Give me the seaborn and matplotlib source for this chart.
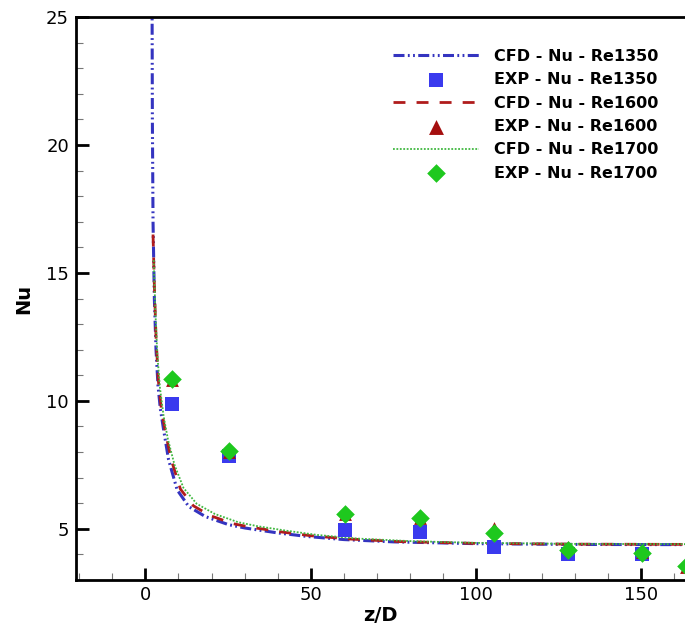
import matplotlib
matplotlib.use("Agg")
import matplotlib.pyplot as plt
import seaborn as sns
from matplotlib.ticker import MultipleLocator

sns.set_style("white")
plt.rcParams['font.family'] = ['DejaVu Sans']
plt.rcParams['text.color'] = 'black'
plt.rcParams['axes.labelcolor'] = 'black'

# CFD curves
cfd1350_x = [2.0, 2.1, 2.3, 2.7, 3.2, 3.8, 4.5, 5.5, 7.0, 9.6, 13.1, 18.1, 25.2, 30.2, 40, 49, 60, 75, 100, 130, 170]
cfd1350_y = [26, 21, 17, 14, 12, 10.6, 9.7, 8.87, 7.7, 6.52, 5.87, 5.48, 5.16, 5.03, 4.84, 4.7, 4.58, 4.49, 4.42, 4.39, 4.38]
cfd1600_x = [2.3, 2.7, 3.2, 3.9, 4.8, 6.0, 7.8, 10.6, 14.5, 19.5, 26.5, 32, 41, 50, 62, 77, 100, 130, 170]
cfd1600_y = [16.5, 14.5, 12.5, 10.8, 9.7, 8.8, 7.7, 6.55, 5.9, 5.52, 5.2, 5.06, 4.88, 4.73, 4.6, 4.5, 4.43, 4.4, 4.39]
cfd1700_x = [2.5, 3.0, 3.6, 4.4, 5.5, 6.8, 8.8, 11.5, 15.5, 21, 28, 34, 43, 52, 64, 80, 100, 130, 170]
cfd1700_y = [15.5, 13.5, 11.8, 10.5, 9.4, 8.5, 7.5, 6.6, 5.98, 5.58, 5.26, 5.1, 4.92, 4.76, 4.62, 4.52, 4.45, 4.41, 4.4]

# Experimental points
exp1350_x = [7.9, 25.4, 60.4, 83, 105.4, 127.8, 150.2]
exp1350_y = [9.88, 7.85, 4.96, 4.88, 4.3, 4.02, 4.02]
exp1600_x = [7.9, 25.4, 60.4, 83, 105.4, 127.8, 150.2, 163.5]
exp1600_y = [10.8, 8.0, 5.56, 5.41, 5.02, 4.28, 4.08, 3.52]
exp1700_x = [7.9, 25.4, 60.4, 83, 105.4, 127.8, 150.2, 163.5]
exp1700_y = [10.86, 8.05, 5.58, 5.43, 4.84, 4.18, 4.06, 3.55]

labels = ["CFD - Nu - Re1350", "EXP - Nu - Re1350", "CFD - Nu - Re1600",
          "EXP - Nu - Re1600", "CFD - Nu - Re1700", "EXP - Nu - Re1700"]

fig = plt.figure(figsize=(6.85, 6.28), dpi=100)
ax = fig.add_axes([76/685, 48/628, (685-76)/685, (580-17)/628])

sns.lineplot(x=cfd1350_x, y=cfd1350_y, ax=ax, color="#3434c0", lw=2.2,
             linestyle=(0, (3.6, 1.1, 0.6, 1.1, 0.6, 1.1)), sort=False, estimator=None, label=labels[0])
sns.lineplot(x=cfd1600_x, y=cfd1600_y, ax=ax, color="#b01c1c", lw=2.0,
             linestyle=(0, (4.3, 4.0)), sort=False, estimator=None, label=labels[2])
sns.lineplot(x=cfd1700_x, y=cfd1700_y, ax=ax, color="#40b840", lw=1.3,
             linestyle=(0, (1, 0.9)), sort=False, estimator=None, label=labels[4])

sns.scatterplot(x=exp1350_x, y=exp1350_y, ax=ax, marker="s", s=95, color="#3a3aee",
                linewidth=0, label=labels[1], zorder=3)
sns.scatterplot(x=exp1600_x, y=exp1600_y, ax=ax, marker="^", s=85, color="#a50f0f",
                linewidth=0, label=labels[3], zorder=4)
sns.scatterplot(x=exp1700_x, y=exp1700_y, ax=ax, marker="D", s=90, color="#1ec81e",
                linewidth=0, label=labels[5], zorder=5)

ax.set_xlim(-21, 163.2)
ax.set_ylim(3, 25)
ax.xaxis.set_major_locator(MultipleLocator(50))
ax.xaxis.set_minor_locator(MultipleLocator(10))
ax.yaxis.set_major_locator(MultipleLocator(5))
ax.yaxis.set_minor_locator(MultipleLocator(1))
ax.set_yticks([5, 10, 15, 20, 25])
ax.tick_params(which="major", direction="in", length=9, width=2, labelsize=13,
               colors="black", left=True, bottom=True)
ax.tick_params(axis="x", which="major", pad=4)
ax.tick_params(axis="y", which="major", pad=5)
ax.tick_params(which="minor", direction="in", length=5, width=0.8, color="#777777",
               left=True, bottom=True)
for s in ["left", "bottom", "top"]:
    ax.spines[s].set_linewidth(2)
    ax.spines[s].set_color("black")
ax.spines["right"].set_visible(False)

ax.set_xlabel("z/D", fontsize=14, fontweight="bold", labelpad=2)
ax.set_ylabel("Nu", fontsize=14, fontweight="bold", labelpad=9)

h, l = ax.get_legend_handles_labels()
d = dict(zip(l, h))
leg = ax.legend([d[k] for k in labels], labels, loc="upper left",
                bbox_to_anchor=(393/685, 1 - 49/628), bbox_transform=fig.transFigure,
                frameon=False, prop={"weight": "bold", "size": 11.5}, handlelength=5.4,
                handletextpad=0.95, labelspacing=0.52, borderaxespad=0, borderpad=0)
for t in leg.get_texts():
    t.set_color("black")
leg.legend_handles[3].set_sizes([115])

fig.savefig("out.png", dpi=100)
